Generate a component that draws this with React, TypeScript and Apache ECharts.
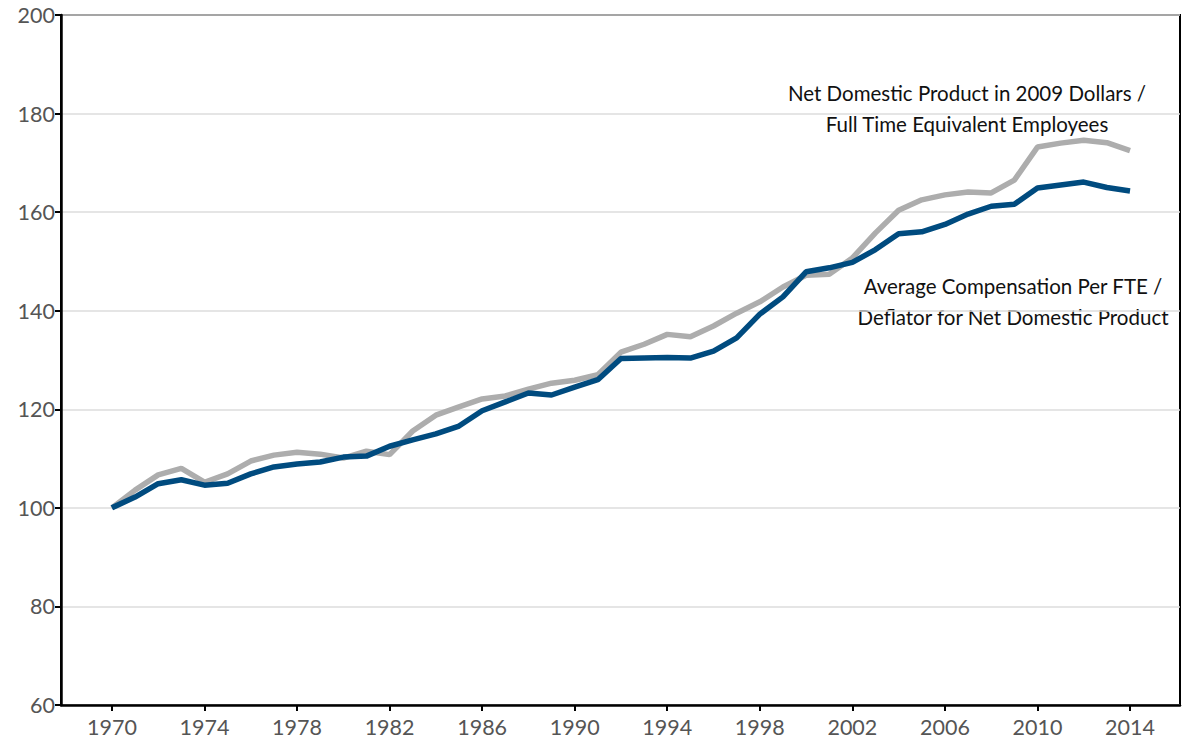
import React, { useEffect, useRef } from "react";
import * as echarts from "echarts";

const years = [
  1970, 1971, 1972, 1973, 1974, 1975, 1976, 1977, 1978, 1979, 1980, 1981, 1982, 1983, 1984,
  1985, 1986, 1987, 1988, 1989, 1990, 1991, 1992, 1993, 1994, 1995, 1996, 1997, 1998, 1999,
  2000, 2001, 2002, 2003, 2004, 2005, 2006, 2007, 2008, 2009, 2010, 2011, 2012, 2013, 2014,
];

const productivity = [
  100, 103.6, 106.7, 108.0, 105.2, 106.9, 109.5, 110.7, 111.3, 110.9, 110.1, 111.5, 110.8,
  115.6, 118.8, 120.5, 122.1, 122.7, 124.1, 125.3, 125.9, 127.0, 131.6, 133.2, 135.2, 134.7,
  136.9, 139.5, 141.8, 144.8, 147.2, 147.4, 150.7, 155.8, 160.4, 162.5, 163.5, 164.1, 163.9,
  166.5, 173.2, 174.0, 174.6, 174.1, 172.5,
];

const compensation = [
  100, 102.2, 104.9, 105.7, 104.6, 105.0, 106.9, 108.3, 108.9, 109.3, 110.3, 110.5, 112.5,
  113.8, 115.0, 116.6, 119.7, 121.5, 123.3, 122.9, 124.5, 126.0, 130.3, 130.4, 130.5, 130.4,
  131.8, 134.5, 139.3, 142.8, 147.9, 148.7, 149.8, 152.4, 155.6, 156.0, 157.5, 159.6, 161.2,
  161.6, 164.9, 165.5, 166.1, 165.0, 164.3,
];

const xTicks = [1970, 1974, 1978, 1982, 1986, 1990, 1994, 1998, 2002, 2006, 2010, 2014];

const FONT = "Lato, 'Open Sans', sans-serif";

export default function App() {
  const ref = useRef<HTMLDivElement>(null);

  useEffect(() => {
    if (!ref.current) return;
    const chart = echarts.init(ref.current, undefined, { renderer: "svg" });
    chart.setOption({
      animation: false,
      backgroundColor: "#ffffff",
      grid: {
        left: 61,
        right: 15,
        top: 15,
        bottom: 49,
        show: true,
        borderColor: "#000000",
        borderWidth: 2,
        backgroundColor: "transparent",
      },
      xAxis: {
        type: "value",
        min: 1967.8,
        max: 2016.16,
        axisLine: { show: true, onZero: false, lineStyle: { color: "#000", width: 2.5 } },
        axisTick: {
          show: true,
          customValues: xTicks,
          length: 6,
          lineStyle: { color: "#000", width: 2 },
        },
        axisLabel: {
          customValues: xTicks,
          color: "#555555",
          fontSize: 21.5,
          fontFamily: FONT,
          margin: 11,
          formatter: (v: number) => String(v),
        },
        splitLine: { show: false },
      },
      yAxis: {
        type: "value",
        min: 60,
        max: 200,
        interval: 20,
        axisLine: { show: true, lineStyle: { color: "#000", width: 2.5 } },
        axisTick: { show: true, length: 6, lineStyle: { color: "#000", width: 2 } },
        axisLabel: {
          color: "#555555",
          fontSize: 21.5,
          fontFamily: FONT,
          margin: 6,
        },
        splitLine: { show: true, lineStyle: { color: "#dcdcdc", width: 1.5 } },
      },
      series: [
        {
          name: "Net Domestic Product in 2009 Dollars / Full Time Equivalent Employees",
          type: "line",
          data: years.map((y, i) => [y, productivity[i]]),
          showSymbol: false,
          lineStyle: { color: "#adadad", width: 5.5 },
          itemStyle: { color: "#adadad" },
          z: 2,
        },
        {
          name: "Average Compensation Per FTE / Deflator for Net Domestic Product",
          type: "line",
          data: years.map((y, i) => [y, compensation[i]]),
          showSymbol: false,
          lineStyle: { color: "#004b7f", width: 5.5 },
          itemStyle: { color: "#004b7f" },
          z: 3,
        },
      ],
      graphic: [
        {
          type: "text",
          x: 967,
          y: 93,
          style: {
            text: "Net Domestic Product in 2009 Dollars /",
            fill: "#111",
            font: `20.5px ${FONT}`,
            textAlign: "center",
            textVerticalAlign: "middle",
          },
        },
        {
          type: "text",
          x: 967,
          y: 124,
          style: {
            text: "Full Time Equivalent Employees",
            fill: "#111",
            font: `20.5px ${FONT}`,
            textAlign: "center",
            textVerticalAlign: "middle",
          },
        },
        {
          type: "text",
          x: 1013,
          y: 286,
          style: {
            text: "Average Compensation Per FTE /",
            fill: "#111",
            font: `20.5px ${FONT}`,
            textAlign: "center",
            textVerticalAlign: "middle",
          },
        },
        {
          type: "text",
          x: 1013,
          y: 317,
          style: {
            text: "Deflator for Net Domestic Product",
            fill: "#111",
            font: `20.5px ${FONT}`,
            textAlign: "center",
            textVerticalAlign: "middle",
          },
        },
      ],
    });
    return () => chart.dispose();
  }, []);

  return (
    <div
      ref={ref}
      style={{ position: "absolute", left: 0, top: 0, width: 1195, height: 754 }}
    />
  );
}
